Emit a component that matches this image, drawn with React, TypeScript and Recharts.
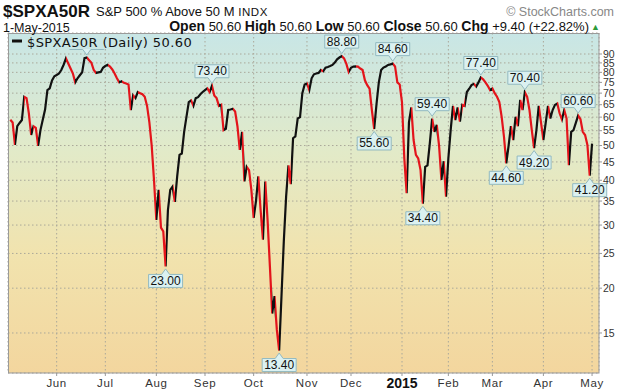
import React from 'react';
import { LineChart, Line, XAxis, YAxis, CartesianGrid } from 'recharts';

// trading-day index of the first day of each month (index 0 = 1-May-2014)
const monthTicks = [21, 42, 64, 85, 106, 129, 148, 170, 190, 209, 231, 252];
const monthLabels = ['Jun', 'Jul', 'Aug', 'Sep', 'Oct', 'Nov', 'Dec', '2015', 'Feb', 'Mar', 'Apr', 'May'];
const yTicks = [15, 20, 25, 30, 35, 40, 45, 50, 55, 60, 65, 70, 75, 80, 85, 90];
const firstIndex = 1;

// daily % of S&P 500 stocks above 50-day MA
const values = [
  59, 58, 50.2, 56.6, 57.8, 58.9, 68.4, 67.8, 61.5, 53.5,
  56.6, 56, 49.9, 55.2, 59, 63, 71.4, 72.2, 76, 78,
  78.6, 79.4, 81.2, 84, 87.5, 84.7, 82, 79.4, 75, 77,
  78.5, 80, 87.6, 88, 86.5, 85, 81.2, 79.7, 80, 80.2,
  82.4, 83.3, 84, 83, 81.5, 79.4, 77, 75, 75.5, 74.8,
  74.5, 74, 62.8, 69, 67.8, 70.5, 70, 69.5, 68.4, 64.5,
  58, 50, 40, 31, 37.6, 29.5, 28.8, 23, 33, 37.6,
  38.4, 34.8, 41, 47.1, 47.5, 54.6, 60.1, 66.1, 66.8, 64.5,
  67.8, 68.2, 69.5, 70.5, 71.4, 72.2, 70.5, 73.4, 69, 67.8,
  64.5, 65, 55.2, 55.7, 62.8, 63, 63.3, 62.2, 56.6, 48.6,
  54.6, 39.7, 43.6, 42.7, 37.6, 31.4, 35, 41, 33, 27.3,
  39.7, 31, 23, 17, 19, 15.3, 13.4, 19, 27, 36,
  44, 39, 52.4, 53, 59.5, 60, 70, 74, 74.5, 71.4,
  77, 79, 79.4, 79.7, 81.2, 80.5, 82.4, 82.8, 83.3, 83.9,
  85.2, 87, 88, 88.8, 87.5, 84.5, 80.2, 82.4, 83, 83.1,
  83, 82, 81.2, 76, 73.7, 72, 62.8, 55.6, 65.2, 75,
  81.2, 82.5, 83.1, 83.9, 84.2, 84.6, 83.1, 75, 74, 66,
  46, 36.8, 58, 63.9, 51.8, 47.1, 46, 42.7, 34.4, 43.6,
  44, 50.7, 59.4, 54.6, 57.1, 49.9, 40.1, 45.2, 36, 46,
  55.2, 64.5, 58.9, 63.9, 58.3, 64.9, 64.5, 70.5, 72, 73.7,
  74.3, 73, 75, 77.4, 76.5, 75, 73.4, 71.4, 72.2, 70,
  68.4, 66.1, 60.1, 52.9, 44.6, 50, 56.6, 51.8, 60.1, 56.6,
  67, 62.8, 70.4, 68.4, 62.8, 55.2, 49.2, 55.2, 64.5, 57.8,
  51.8, 57.8, 64.5, 59.5, 62.8, 64.9, 65.5, 61.5, 59.1, 62.8,
  59.5, 44.1, 54.6, 55.2, 57.8, 60.6, 59.2, 54.6, 53.5, 50.2,
  41.2, 50.6,
];

// annotated highs (up) and lows (down); the first one sits under the legend
const annoIndex = [34, 68, 88, 117, 144, 158, 166, 179, 183, 204, 215, 223, 227, 246, 251];
const annoPos = ['up', 'down', 'up', 'down', 'up', 'down', 'up', 'down', 'up', 'up', 'down', 'up', 'down', 'up', 'down'];
const hiddenAnno = [34];

const UP = '#111111';
const DOWN = '#e3141b';
const FONT = '"Liberation Sans", Arial, sans-serif';

const data = values.map((v, k) => ({ i: firstIndex + k, v }));
const annoMap = new Map<number, string>(annoIndex.map((i, k) => [i, annoPos[k]]));

const N = values.length;
const stops: React.ReactElement[] = [];
for (let k = 1; k < N; k++) {
  const c = values[k] >= values[k - 1] ? UP : DOWN;
  stops.push(<stop key={`a${k}`} offset={(k - 1) / (N - 1)} stopColor={c} />);
  stops.push(<stop key={`b${k}`} offset={k / (N - 1)} stopColor={c} />);
}

const AnnoDot = (props: any) => {
  const { cx, cy, index, payload } = props;
  const key = `d${index}`;
  const pos = payload ? annoMap.get(payload.i) : undefined;
  if (!pos || cx == null || cy == null) return <g key={key} />;
  const text = Number(payload.v).toFixed(2);
  const hidden = hiddenAnno.includes(payload.i);
  const w = 34;
  const h = 13;
  const bx = cx - w / 2;
  let by: number;
  let d: string;
  if (pos === 'up') {
    by = cy - 8 - h;
    d = `M${bx},${by} H${bx + w} V${by + h} H${cx + 4} L${cx},${cy - 2.5} L${cx - 4},${by + h} H${bx} Z`;
  } else {
    by = cy + 8;
    d = `M${bx},${by} H${cx - 4} L${cx},${cy + 2.5} L${cx + 4},${by} H${bx + w} V${by + h} H${bx} Z`;
  }
  return (
    <g key={key}>
      <path d={d} fill="#dbf1f1" stroke="#92b9c0" strokeWidth={1} />
      {!hidden && (
        <text x={cx} y={by + h - 2.5} textAnchor="middle" fontSize={12} fontFamily={FONT} fill="#111">
          {text}
        </text>
      )}
    </g>
  );
};

const MonthTick = (props: any) => {
  const { x, y, payload } = props;
  const idx = monthTicks.indexOf(payload.value);
  const label = idx >= 0 ? monthLabels[idx] : '';
  const isYear = label === '2015';
  return (
    <text
      x={x}
      y={y}
      dy={isYear ? 10 : 9}
      textAnchor="middle"
      fontSize={isYear ? 14 : 11.5}
      fontWeight={isYear ? 'bold' : 'normal'}
      fontFamily={FONT}
      fill={isYear ? '#111' : '#333'}
      letterSpacing={isYear ? 0 : 0.6}
    >
      {label}
    </text>
  );
};

export default function App() {
  return (
    <div style={{ position: 'absolute', left: 0, top: 0, width: 627, height: 391, background: '#fff' }}>
      <LineChart width={627} height={391} data={data} margin={{ top: 33, right: 0, bottom: 0, left: 8 }}>
        <defs>
          <linearGradient id="bgGrad" x1="0" y1="0" x2="0" y2="1">
            <stop offset="0" stopColor="#c8e6e6" />
            <stop offset="0.35" stopColor="#e2eac8" />
            <stop offset="0.65" stopColor="#f1e3ae" />
            <stop offset="1" stopColor="#f3d69e" />
          </linearGradient>
          <linearGradient id="dirGrad" x1="0" y1="0" x2="1" y2="0">
            {stops}
          </linearGradient>
        </defs>
        <CartesianGrid fill="url(#bgGrad)" fillOpacity={1} stroke="#aaa89a" strokeDasharray="1.5 2.5" />
        <XAxis
          dataKey="i"
          type="number"
          domain={[0, 255]}
          ticks={monthTicks}
          interval={0}
          height={18}
          axisLine={false}
          tickLine={{ stroke: '#999' }}
          tickSize={3}
          tickMargin={2}
          tick={<MonthTick />}
        />
        <YAxis
          orientation="right"
          scale="log"
          domain={[11.6, 103]}
          ticks={yTicks}
          interval={0}
          width={28}
          axisLine={false}
          tickLine={{ stroke: '#999' }}
          tickSize={3}
          tickMargin={1}
          tick={{ fontSize: 10.5, fill: '#333', fontFamily: FONT }}
        />
        <Line
          type="linear"
          dataKey="v"
          stroke="url(#dirGrad)"
          strokeWidth={2.2}
          dot={AnnoDot}
          activeDot={false}
          isAnimationActive={false}
        />
      </LineChart>
      <svg width={627} height={391} style={{ position: 'absolute', left: 0, top: 0, pointerEvents: 'none' }}>
        <rect x={8.5} y={33.5} width={590.5} height={339.5} fill="none" stroke="#9a9a9a" strokeWidth={1} />
        <rect x={9} y={34} width={190} height={15} fill="#c9e6e5" />
        <line x1={12} x2={22} y1={41} y2={41} stroke="#111" strokeWidth={3} />
        <text x={27} y={46.5} fontSize={13} fontFamily='"DejaVu Sans", Verdana, sans-serif' fill="#111" letterSpacing={0.4}>
          $SPXA50R (Daily) 50.60
        </text>
        <text x={3} y={16.5} fontSize={17} fontWeight="bold" fontFamily={FONT} fill="#111">
          $SPXA50R
        </text>
        <text x={96} y={16} fontSize={13} fontFamily={FONT} fill="#111">
          {'S&P 500 % Above 50 M '}
          <tspan fontSize={11.5} letterSpacing={0.6}>INDX</tspan>
        </text>
        <text x={614} y={15.5} textAnchor="end" fontSize={12.5} fontFamily={FONT} fill="#888">
          {'© StockCharts.com'}
        </text>
        <text x={3} y={31.5} fontSize={12.5} fontFamily={FONT} fill="#111">
          1-May-2015
        </text>
        <text x={589} y={31} textAnchor="end" fontSize={13} fontFamily={FONT} fill="#111">
          <tspan fontWeight="bold" fontSize={14}>Open</tspan>
          {' 50.60 '}
          <tspan fontWeight="bold" fontSize={14}>High</tspan>
          {' 50.60 '}
          <tspan fontWeight="bold" fontSize={14}>Low</tspan>
          {' 50.60 '}
          <tspan fontWeight="bold" fontSize={14}>Close</tspan>
          {' 50.60 '}
          <tspan fontWeight="bold" fontSize={14}>Chg</tspan>
          {' +9.40 (+22.82%)'}
        </text>
        <text x={600} y={30} textAnchor="end" fontSize={9} fontFamily={FONT} fill="#2e9a3a">
          ▲
        </text>
      </svg>
    </div>
  );
}
